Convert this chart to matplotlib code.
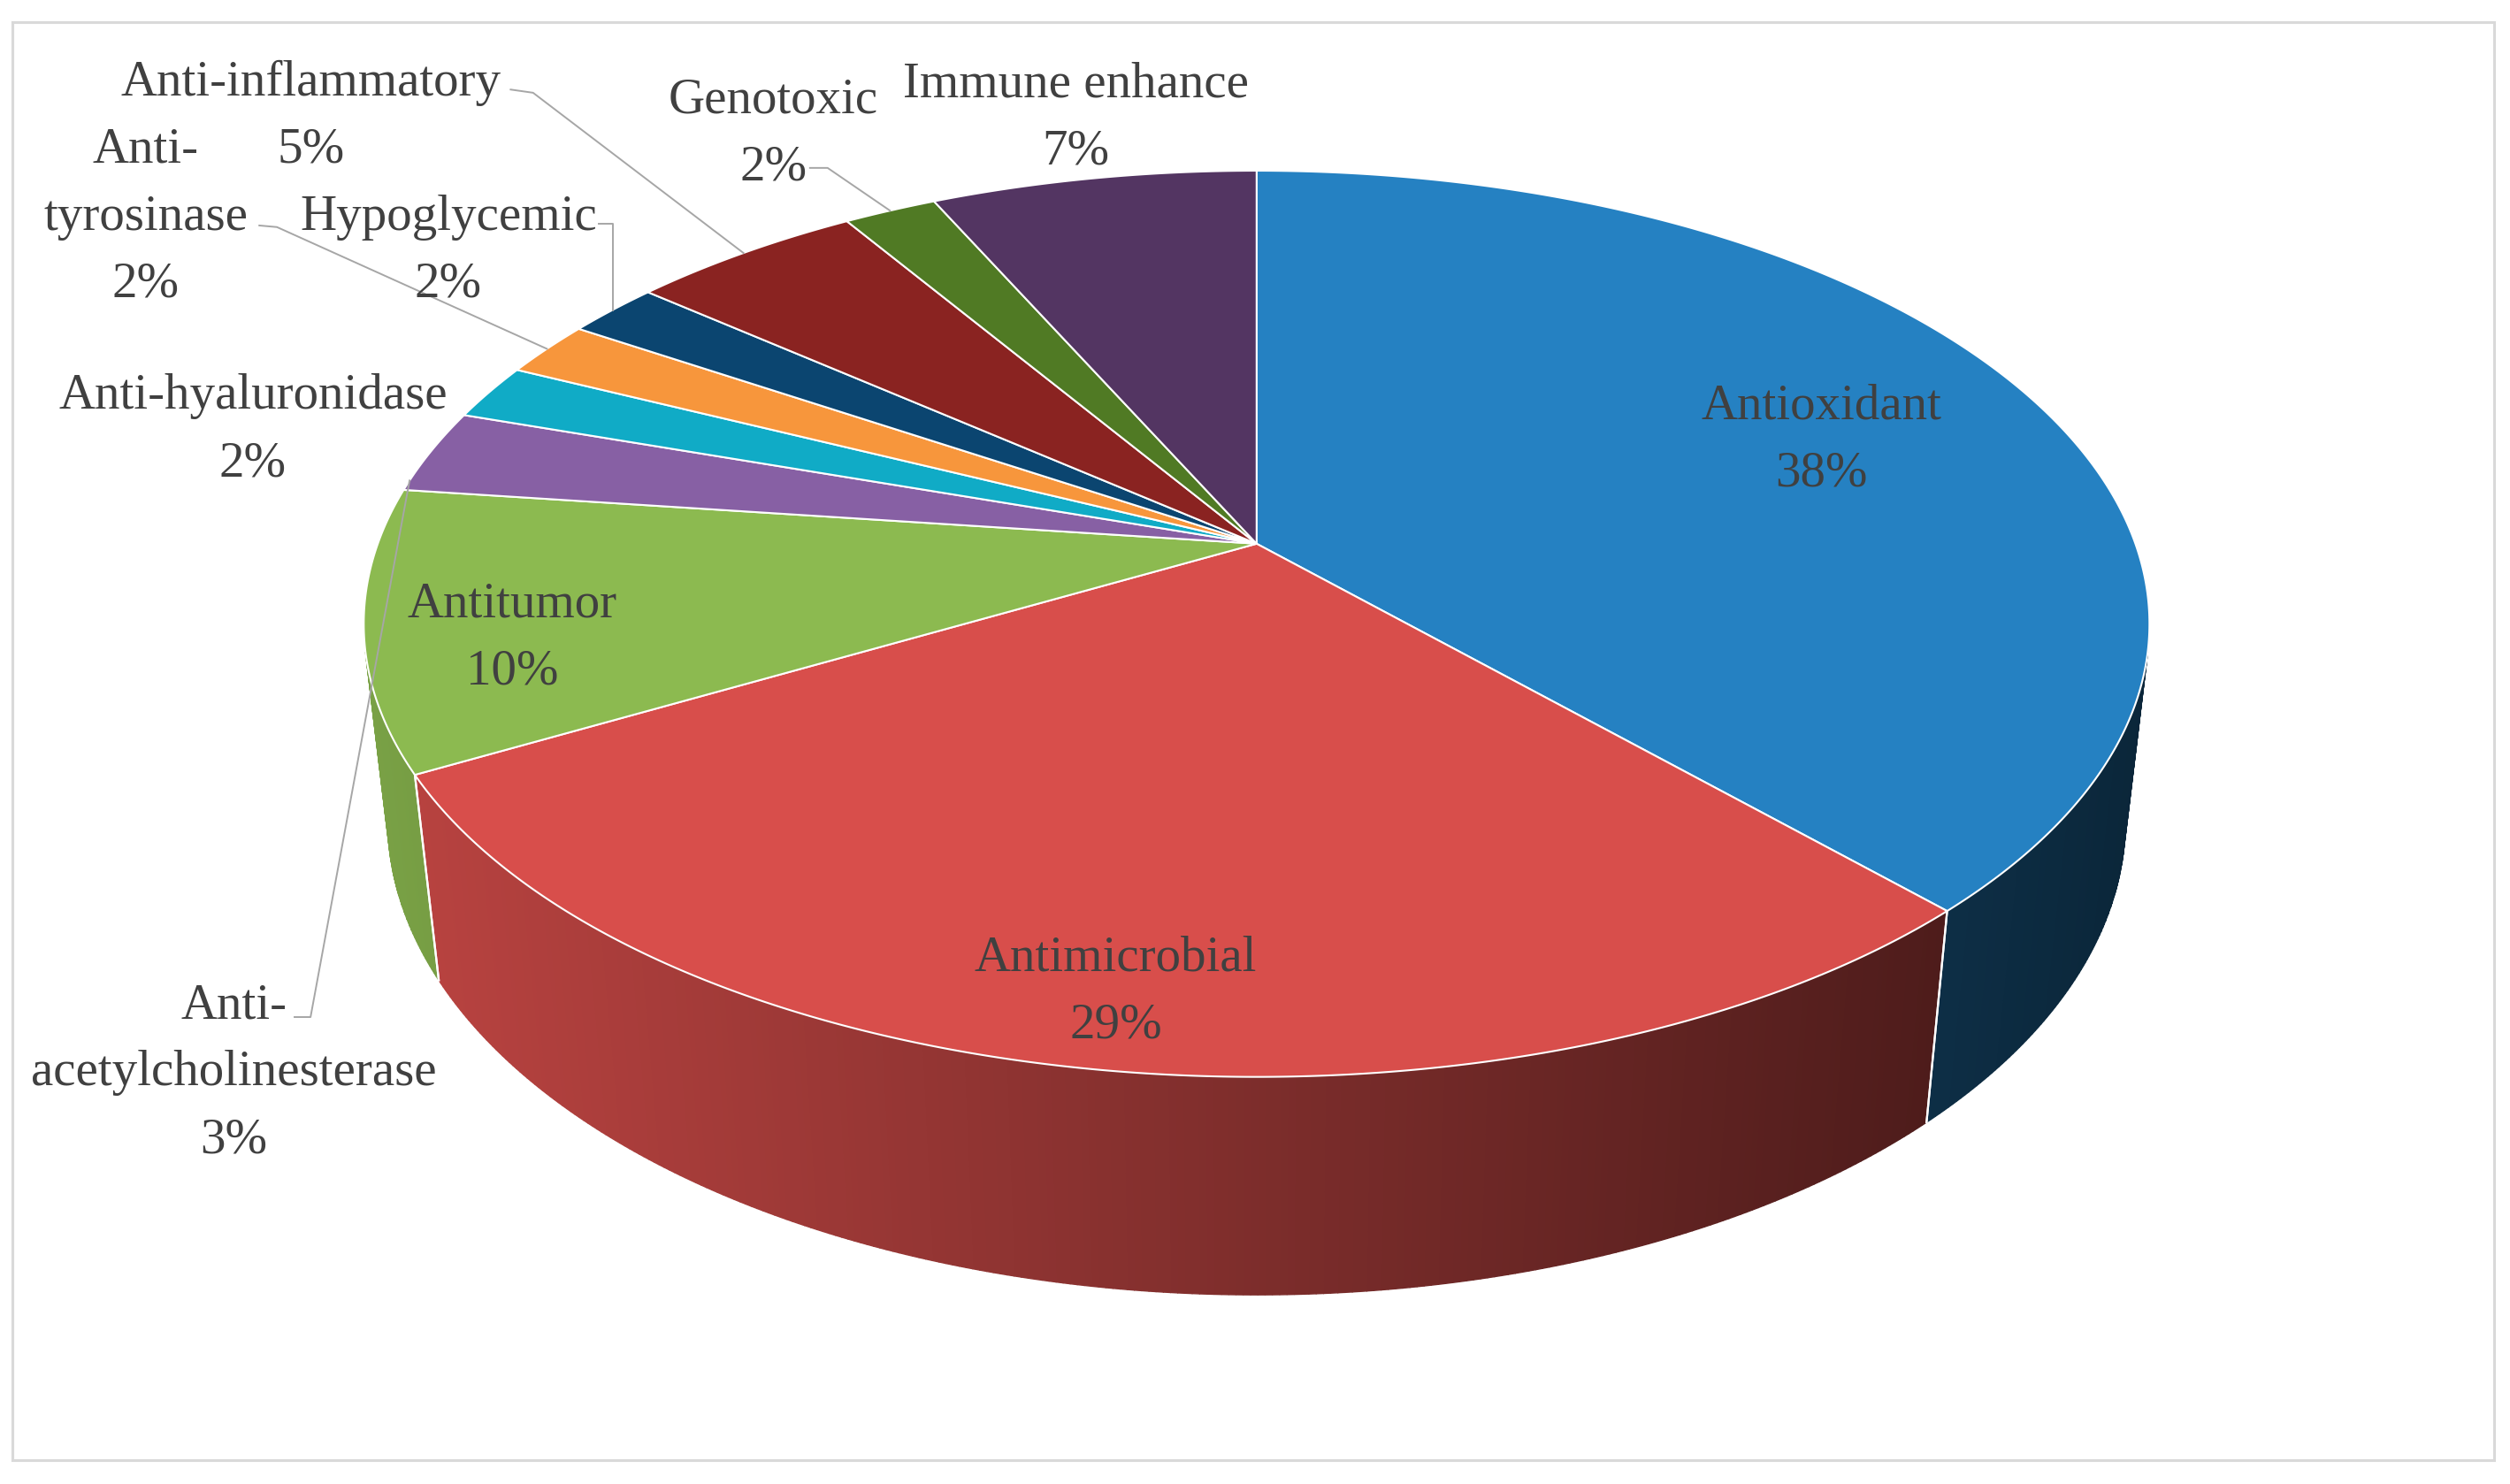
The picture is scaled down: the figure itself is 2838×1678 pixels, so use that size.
import numpy as np
import matplotlib
matplotlib.use("Agg")
import matplotlib.pyplot as plt
from matplotlib.patches import Polygon, Rectangle

# ---------------- data ----------------
categories = ["Antioxidant", "Antimicrobial", "Antitumor", "Anti-acetylcholinesterase",
              "Anti-hyaluronidase", "Anti-tyrosinase", "Hypoglycemic",
              "Anti-inflammatory", "Genotoxic", "Immune enhance"]
values = [38, 29, 10, 3, 2, 2, 2, 5, 2, 7]
colors = ["#2581C2", "#D84E4B", "#8CBA50", "#8760A4", "#10ABC6",
          "#F7963C", "#0B4570", "#8A2321", "#507A24", "#533562"]

# ---------------- layout ----------------
W, H = 1568, 928           # canvas units
CX, CY = 785, 340          # pie vertex on screen
F, D = 2690.0, 4.9         # perspective focal length / camera distance
ELEV = np.radians(30)
THICK = 0.2625
TEXT_COLOR = "#404040"
FONT = ["Liberation Serif", "DejaVu Serif"]
FS = 41
LINE_STEP = 42
TEXT_DY = 2

wrap = {"Anti-acetylcholinesterase": ["Anti-", "acetylcholinesterase"],
        "Anti-tyrosinase": ["Anti-", "tyrosinase"]}
label_pos = {"Antioxidant": (1138, 252), "Antimicrobial": (697, 597),
             "Antitumor": (320, 376), "Anti-acetylcholinesterase": (146, 627),
             "Anti-hyaluronidase": (158, 246), "Anti-tyrosinase": (91, 92),
             "Hypoglycemic": (280, 134), "Anti-inflammatory": (194, 50),
             "Genotoxic": (483, 61), "Immune enhance": (672, 51)}
# leader start points (near labels) and where along the slice the leader lands
leader_start = {"Anti-inflammatory": [(319, 56), (333, 58)],
                "Anti-tyrosinase": [(162, 141), (173, 142)],
                "Hypoglycemic": [(374, 140)],
                "Genotoxic": [(506, 105), (517, 105)],
                "Anti-acetylcholinesterase": [(184, 636), (194, 636)]}
leader_frac = {"Anti-acetylcholinesterase": 0.12}


def project(theta_deg, z, r=1.0):
    t = np.radians(theta_deg)
    x = r * np.cos(t)
    y = r * np.sin(t)
    yc = y * np.sin(ELEV) + z * np.cos(ELEV)
    depth = y * np.cos(ELEV) - z * np.sin(ELEV) + D
    return CX + F * x / depth, CY - F * yc / depth


fig = plt.figure(figsize=(28.38, 16.78), dpi=100)
ax = fig.add_axes([0, 0, 1, 1])
ax.set_xlim(0, W)
ax.set_ylim(H, 0)
ax.axis("off")

# frame
ax.add_patch(Rectangle((8, 14), 1550, 899, fill=False, edgecolor="#D9D9D9", lw=2.2, zorder=0))

total = float(sum(values))
cum = np.concatenate([[0], np.cumsum(values)])
starts = 90 - 360 * cum[:-1] / total
ends = 90 - 360 * cum[1:] / total

k = 1.0 / (D * np.cos(ELEV))
vis_hi = -np.degrees(np.arcsin(k))
vis_lo = -180 + np.degrees(np.arcsin(k))
half_w = F / D


def shade(col, sx):
    u = (sx - CX) / half_w
    f = np.clip(0.58 - 0.28 * u, 0.15, 1.0)
    rgb = np.array(matplotlib.colors.to_rgb(col))
    return tuple(rgb * f)


# ---- side walls ----
for s, e, col in zip(starts, ends, colors):
    a_hi = min(s, vis_hi)
    a_lo = max(e, vis_lo)
    if a_hi <= a_lo:
        continue
    n = max(2, int((a_hi - a_lo) / 0.4))
    angs = np.linspace(a_hi, a_lo, n)
    for a1, a2 in zip(angs[:-1], angs[1:]):
        t1 = project(a1, 0); t2 = project(a2, 0)
        b1 = project(a1, -THICK); b2 = project(a2, -THICK)
        c = shade(col, (t1[0] + t2[0]) / 2)
        ax.add_patch(Polygon([t1, t2, b2, b1], closed=True, facecolor=c,
                             edgecolor=c, lw=1.0, zorder=1))
    # seams at slice boundaries
    for a in (s, e):
        if vis_lo < a < vis_hi:
            p0 = project(a, 0); p1 = project(a, -THICK)
            ax.plot([p0[0], p1[0]], [p0[1], p1[1]], color="white", lw=1.6, zorder=1.5)

# ---- top faces ----
for s, e, col in zip(starts, ends, colors):
    angs = np.linspace(s, e, max(3, int((s - e) / 0.3)))
    pts = [project(0, 0, r=0.0)] + [project(a, 0) for a in angs]
    ax.add_patch(Polygon(pts, closed=True, facecolor=col, edgecolor="white",
                         lw=1.5, joinstyle="round", zorder=2))

# ---- labels ----
for cat, v, s, e in zip(categories, values, starts, ends):
    lines = wrap.get(cat, [cat]) + [f"{v}%"]
    x, y0 = label_pos[cat]
    for i, ln in enumerate(lines):
        ax.text(x, y0 + TEXT_DY + i * LINE_STEP, ln, ha="center", va="center", fontsize=FS,
                family=FONT, color=TEXT_COLOR, zorder=5)
    if cat in leader_start:
        frac = leader_frac.get(cat, 0.5)
        anchor = project(s - frac * (s - e), 0)
        pts = list(leader_start[cat])
        if cat == "Hypoglycemic":
            pts.append((anchor[0], pts[0][1]))
        pts.append(anchor)
        xs, ys = zip(*pts)
        ax.plot(xs, ys, color="#A6A6A6", lw=1.4, zorder=4)

fig.savefig("out.png", dpi=100, facecolor="white")
